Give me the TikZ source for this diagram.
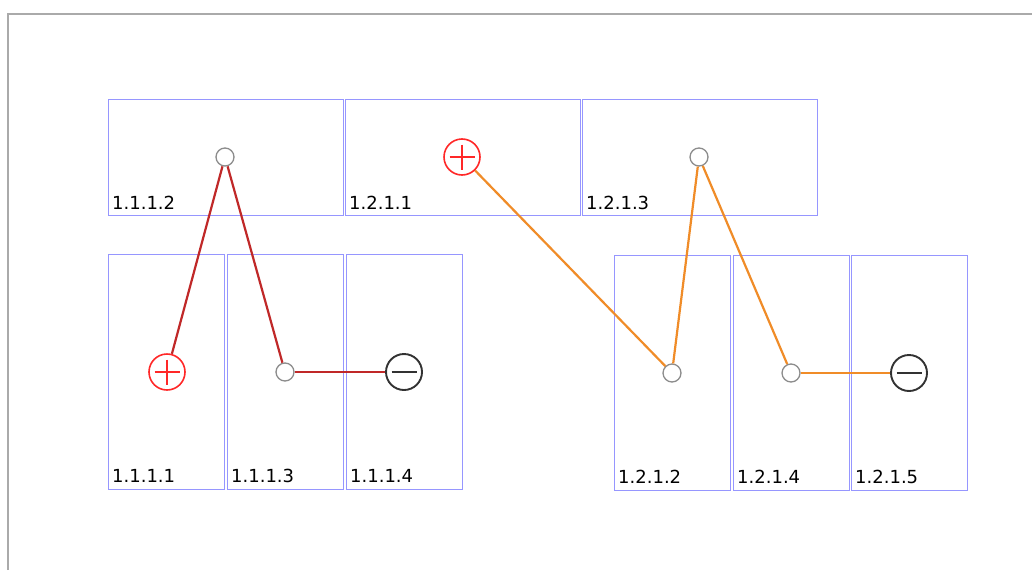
\documentclass[tikz,border=0pt]{standalone}
\usepackage{fontspec}
\setmainfont{DejaVu Sans}
\definecolor{cellblue}{RGB}{150,150,255}
\definecolor{wirered}{RGB}{192,40,40}
\definecolor{wireorange}{RGB}{240,140,40}
\definecolor{plusred}{RGB}{255,40,40}
\definecolor{minusdark}{RGB}{50,50,50}
\definecolor{dotgray}{RGB}{140,140,140}
\definecolor{framegray}{RGB}{170,170,170}
\begin{document}
\begin{tikzpicture}[x=1pt,y=-1pt,
  cellw/.style={draw=cellblue, line width=1.3pt, rectangle, inner sep=0pt, anchor=north west, minimum width=235pt, minimum height=116pt},
  celln/.style={draw=cellblue, line width=1.3pt, rectangle, inner sep=0pt, anchor=north west, minimum width=116pt, minimum height=235pt},
  lbl/.style={inner sep=0pt, anchor=base west, font=\fontsize{18}{21}\selectfont, text=black},
  dotn/.style={circle, draw=dotgray, fill=white, line width=1.3pt, minimum size=18pt, inner sep=0pt},
  plusn/.style={circle, draw=plusred, fill=white, line width=1.6pt, minimum size=36pt, inner sep=0pt},
  minusn/.style={circle, draw=minusdark, fill=white, line width=1.9pt, minimum size=36pt, inner sep=0pt},
  plusbar/.style={draw=plusred, line width=1.6pt},
  minusbar/.style={draw=minusdark, line width=1.9pt},
  redwire/.style={draw=wirered, line width=2.2pt},
  orangewire/.style={draw=wireorange, line width=2.2pt}]
\fill[white] (0,0) rectangle (1032,570);
\useasboundingbox (0,0) rectangle (1032,570);
\draw[framegray, line width=1.5pt] (8,570) -- (8,14) -- (1032,14);

% top row
\node[cellw] (b1112) at (108,99) {};
\node[cellw] (b1211) at (345,99) {};
\node[cellw] (b1213) at (582,99) {};
% bottom row
\node[celln] (b1111) at (108,254) {};
\node[celln] (b1113) at (227,254) {};
\node[celln] (b1114) at (346,254) {};
\node[celln] (b1212) at (614,255) {};
\node[celln] (b1214) at (733,255) {};
\node[celln] (b1215) at (851,255) {};

% labels
\node[lbl] (l1112) at ([xshift=4pt,yshift=7pt]b1112.south west) {1.1.1.2};
\node[lbl] (l1211) at ([xshift=4pt,yshift=7pt]b1211.south west) {1.2.1.1};
\node[lbl] (l1213) at ([xshift=4pt,yshift=7pt]b1213.south west) {1.2.1.3};
\node[lbl] (l1111) at ([xshift=4pt,yshift=8pt]b1111.south west) {1.1.1.1};
\node[lbl] (l1113) at ([xshift=4pt,yshift=8pt]b1113.south west) {1.1.1.3};
\node[lbl] (l1114) at ([xshift=4pt,yshift=8pt]b1114.south west) {1.1.1.4};
\node[lbl] (l1212) at ([xshift=4pt,yshift=8pt]b1212.south west) {1.2.1.2};
\node[lbl] (l1214) at ([xshift=4pt,yshift=8pt]b1214.south west) {1.2.1.4};
\node[lbl] (l1215) at ([xshift=4pt,yshift=8pt]b1215.south west) {1.2.1.5};

% terminals
\node[dotn] (d1112) at (225,157) {};
\node[plusn] (p1111) at (167,372) {};
\node[dotn] (d1113) at (285,372) {};
\node[minusn] (m1114) at (404,372) {};
\node[plusn] (p1211) at (462,157) {};
\node[dotn] (d1212) at (672,373) {};
\node[dotn] (d1213) at (699,157) {};
\node[dotn] (d1214) at (791,373) {};
\node[minusn] (m1215) at (909,373) {};

\foreach \n in {p1111,p1211}{
  \draw[plusbar] (\n.center) +(-12.5,0) -- +(12.5,0);
  \draw[plusbar] (\n.center) +(0,-12.5) -- +(0,12.5);
}
\foreach \n in {m1114,m1215}{
  \draw[minusbar] (\n.center) +(-12.5,0) -- +(12.5,0);
}

% wires
\draw[redwire] (d1112) -- (p1111);
\draw[redwire] (d1112) -- (d1113);
\draw[redwire] (d1113) -- (m1114);
\draw[orangewire] (p1211) -- (d1212);
\draw[orangewire] (d1212) -- (d1213);
\draw[orangewire] (d1213) -- (d1214);
\draw[orangewire] (d1214) -- (m1215);
\end{tikzpicture}
\end{document}
